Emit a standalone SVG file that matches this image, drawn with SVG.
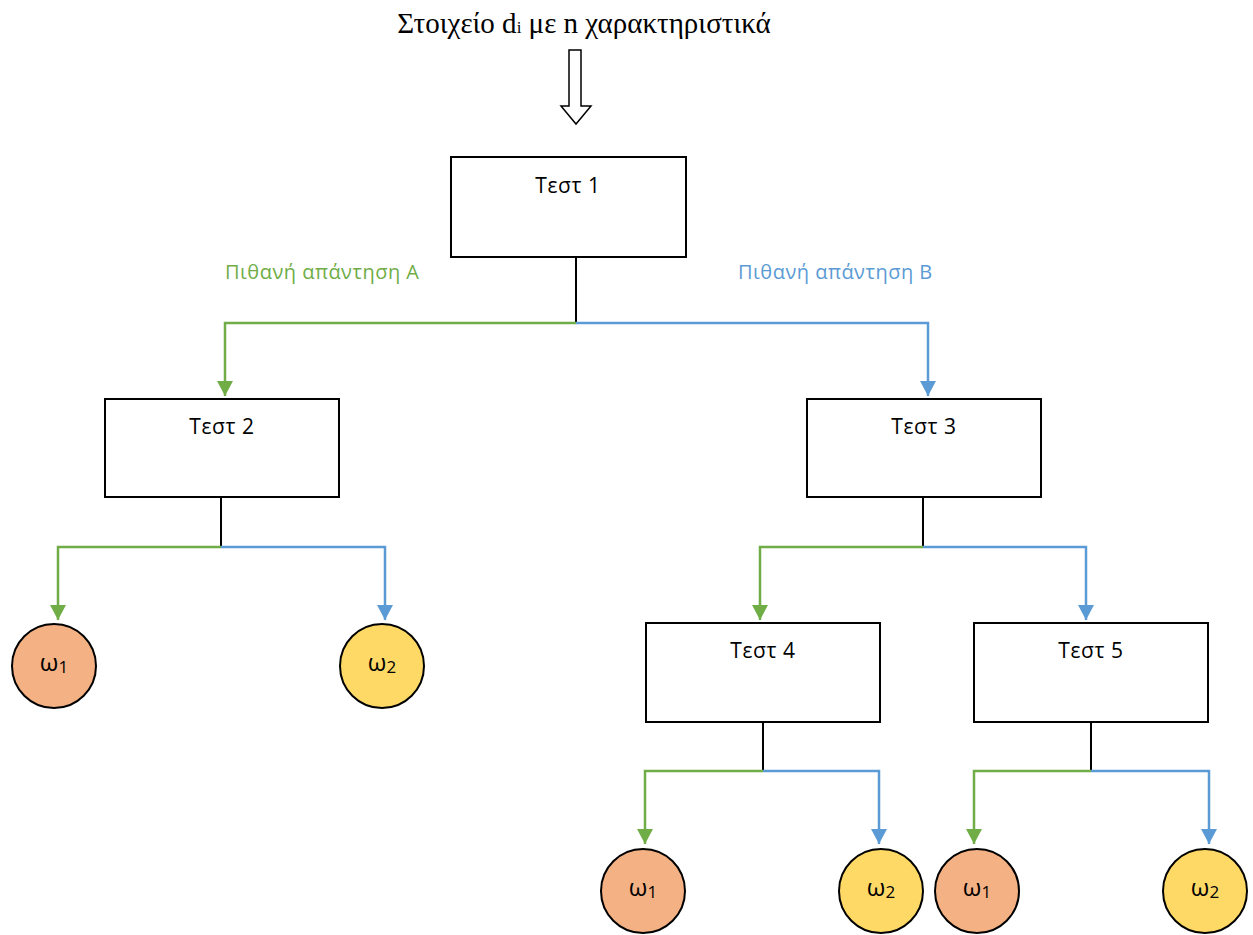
<svg xmlns="http://www.w3.org/2000/svg" width="1253" height="935" viewBox="0 0 1253 935">
  <style>
    .box { fill: #ffffff; stroke: #000000; stroke-width: 2; }
    .lbl { font-family: "Open Sans", "Noto Sans", sans-serif; font-size: 21px; letter-spacing: 0.6px; fill: #000000; text-anchor: middle; }
    .om { font-family: "Open Sans", "Noto Sans", sans-serif; font-size: 24px; fill: #000000; text-anchor: middle; }
    .stem { stroke: #000000; stroke-width: 2; fill: none; }
    .ga { stroke: #70AD47; stroke-width: 2.5; fill: none; marker-end: url(#hg); }
    .ba { stroke: #5B9BD5; stroke-width: 2.5; fill: none; marker-end: url(#hb); }
    .c1 { fill: #F4B183; stroke: #000000; stroke-width: 2; }
    .c2 { fill: #FFD966; stroke: #000000; stroke-width: 2; }
    .ans { font-family: "Open Sans", "Noto Sans", sans-serif; font-size: 20px; letter-spacing: 0.5px; }
  </style>
  <defs>
    <marker id="hg" markerUnits="userSpaceOnUse" markerWidth="15" markerHeight="16" viewBox="0 0 15 16" refX="15" refY="8" orient="auto">
      <path d="M0,0 L15,8 L0,16 Z" fill="#70AD47"/>
    </marker>
    <marker id="hb" markerUnits="userSpaceOnUse" markerWidth="15" markerHeight="16" viewBox="0 0 15 16" refX="15" refY="8" orient="auto">
      <path d="M0,0 L15,8 L0,16 Z" fill="#5B9BD5"/>
    </marker>
  </defs>

  <rect width="1253" height="935" fill="#ffffff"/>

  <!-- input description and hollow arrow -->
  <g id="input">
    <text x="584" y="33" text-anchor="middle" font-family="'Liberation Serif', 'DejaVu Serif', serif" font-size="29" fill="#000">Στοιχείο d<tspan font-size="17">i</tspan> με n χαρακτηριστικά</text>
    <path d="M569,50 L581,50 L581,106 L591,106 L576,124 L561,106 L569,106 Z" fill="#ffffff" stroke="#000" stroke-width="1.5"/>
  </g>

  <!-- answer labels -->
  <text class="ans" x="225" y="279" fill="#70AD47">Πιθανή απάντηση A</text>
  <text class="ans" x="738" y="279" fill="#5B9BD5">Πιθανή απάντηση B</text>

  <!-- connectors -->
  <g id="connectors">
    <line class="stem" x1="576" y1="258" x2="576" y2="323"/>
    <path class="ga" d="M576,323 H225 V396"/>
    <path class="ba" d="M576,323 H928 V396"/>

    <line class="stem" x1="221" y1="498" x2="221" y2="547"/>
    <path class="ga" d="M221,547 H58 V620"/>
    <path class="ba" d="M221,547 H385 V620"/>

    <line class="stem" x1="923" y1="498" x2="923" y2="547"/>
    <path class="ga" d="M923,547 H760 V620"/>
    <path class="ba" d="M923,547 H1086 V620"/>

    <line class="stem" x1="763" y1="723" x2="763" y2="771"/>
    <path class="ga" d="M763,771 H645 V844"/>
    <path class="ba" d="M763,771 H879 V844"/>

    <line class="stem" x1="1091" y1="723" x2="1091" y2="771"/>
    <path class="ga" d="M1091,771 H974 V844"/>
    <path class="ba" d="M1091,771 H1209 V844"/>
  </g>

  <!-- test nodes -->
  <g id="test1"><rect class="box" x="451" y="157" width="235" height="100"/><text class="lbl" x="568" y="193">Τεστ 1</text></g>
  <g id="test2"><rect class="box" x="105" y="399" width="234" height="98"/><text class="lbl" x="222" y="434">Τεστ 2</text></g>
  <g id="test3"><rect class="box" x="807" y="399" width="234" height="98"/><text class="lbl" x="924" y="434">Τεστ 3</text></g>
  <g id="test4"><rect class="box" x="646" y="623" width="234" height="99"/><text class="lbl" x="763" y="658">Τεστ 4</text></g>
  <g id="test5"><rect class="box" x="974" y="623" width="234" height="99"/><text class="lbl" x="1091" y="658">Τεστ 5</text></g>

  <!-- class leaves -->
  <g id="leaf-2-w1"><circle class="c1" cx="54" cy="666" r="42"/><text class="om" x="54" y="671">ω<tspan font-size="17" dy="2">1</tspan></text></g>
  <g id="leaf-2-w2"><circle class="c2" cx="382" cy="666" r="42"/><text class="om" x="382" y="671">ω<tspan font-size="17" dy="2">2</tspan></text></g>
  <g id="leaf-4-w1"><circle class="c1" cx="643" cy="891" r="42"/><text class="om" x="643" y="896">ω<tspan font-size="17" dy="2">1</tspan></text></g>
  <g id="leaf-4-w2"><circle class="c2" cx="881" cy="891" r="42"/><text class="om" x="881" y="896">ω<tspan font-size="17" dy="2">2</tspan></text></g>
  <g id="leaf-5-w1"><circle class="c1" cx="977" cy="891" r="42"/><text class="om" x="977" y="896">ω<tspan font-size="17" dy="2">1</tspan></text></g>
  <g id="leaf-5-w2"><circle class="c2" cx="1205" cy="891" r="42"/><text class="om" x="1205" y="896">ω<tspan font-size="17" dy="2">2</tspan></text></g>
</svg>
